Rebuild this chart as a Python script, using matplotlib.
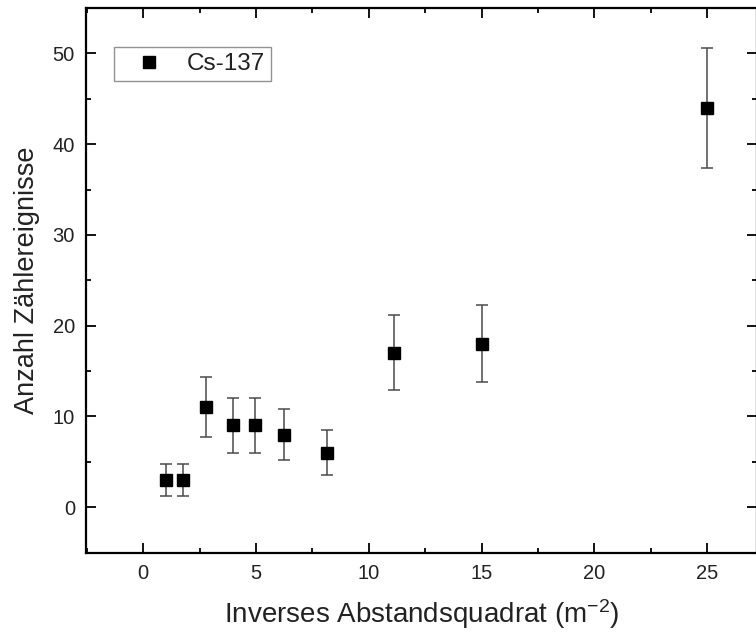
import numpy as np
import matplotlib
matplotlib.use('Agg')
import matplotlib.pyplot as plt
from matplotlib.pyplot import MultipleLocator


# Data: inverse squared distance vs. counts (Cs-137)
inv_dist_sq = [1.0, 1.78, 2.78, 4.0, 4.94, 6.25, 8.16, 11.1, 15.0, 25.0]
counts = [3, 3, 11, 9, 9, 8, 6, 17, 18, 44]
count_err = [1.73, 1.73, 3.32, 3.0, 3.0, 2.83, 2.45, 4.12, 4.24, 6.63]
series_label = 'Cs-137'
xlabel = 'Inverses Abstandsquadrat (m$^{\\mathregular{-2}}$)'
ylabel = 'Anzahl Zählereignisse'


# Plot setting
plt.rcParams.update({
    "font.family": ["Liberation Sans", "DejaVu Sans"],
    "mathtext.default": "regular",
})

W, H = 756, 636
fig = plt.figure(figsize=(W / 100, H / 100), dpi=100)
ax = fig.add_axes([86 / W, (H - 553) / H, (757 - 86) / W, (553 - 8) / H])

# tick setting
ax.tick_params(axis='both', which='major', direction='in', length=7, width=1.3,
               labelsize=14.5, top=True, right=True, pad=8, labelcolor='#222222')
ax.tick_params(axis='both', which='minor', direction='in', length=3.5, width=1.3,
               top=True, right=True)
ax.set_xlim(-2.53, 27.2)
ax.set_ylim(-5.05, 55)
ax.xaxis.set_major_locator(MultipleLocator(5))
ax.xaxis.set_minor_locator(MultipleLocator(2.5))
ax.yaxis.set_major_locator(MultipleLocator(10))
ax.yaxis.set_minor_locator(MultipleLocator(5))

# label setting
ax.set_xlabel(xlabel, fontsize=20, color='#222222', labelpad=10)
ax.set_ylabel(ylabel, fontsize=19.5, color='#222222', labelpad=9)

# frame setting
for side in ['left', 'right', 'top', 'bottom']:
    ax.spines[side].set_linewidth(1.6)

# Plot
ax.errorbar(inv_dist_sq, counts, yerr=count_err, fmt='s', color='black',
            markersize=8.5, ecolor='#4a4a4a', elinewidth=1.1, capsize=4,
            capthick=1.1, label=series_label)

handles, labels = ax.get_legend_handles_labels()
leg = ax.legend([handles[0][0]], labels, loc='upper left',
                bbox_to_anchor=(0.042, 0.928), borderaxespad=0, fancybox=False,
                edgecolor='#777777', fontsize=17.5, handlelength=2.4,
                handletextpad=0.33, borderpad=0.25, markerscale=0.95)
leg.get_frame().set_linewidth(1.0)
for t in leg.get_texts():
    t.set_color('#222222')

fig.savefig("out.png", dpi=100)
